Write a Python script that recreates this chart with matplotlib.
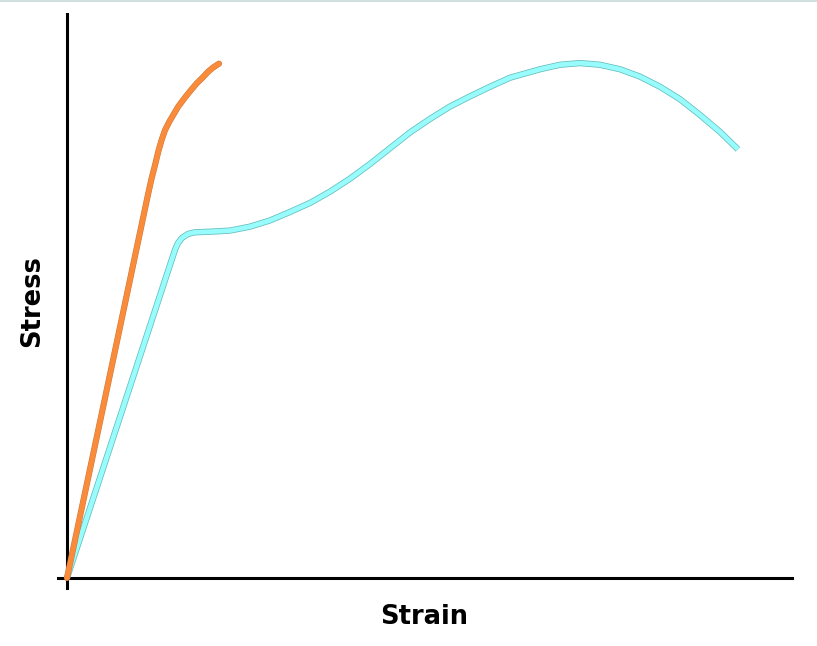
import matplotlib
matplotlib.use("Agg")
import matplotlib.pyplot as plt
import matplotlib.patheffects as pe
from matplotlib.lines import Line2D

# Brittle material (orange)
brittle_strain = [0, 11.21, 11.68, 12.14, 12.59, 13.06, 13.52, 14.11, 14.66, 15.35,
                  16.28, 16.97, 17.89, 18.76, 19.49, 20.14, 20.97]
brittle_stress = [0, 68.2, 70.9, 73.2, 75.6, 77.7, 79.4, 80.9, 82.1, 83.6,
                  85.2, 86.3, 87.7, 88.8, 89.8, 90.5, 91.2]

# Ductile material (cyan)
ductile_strain = [0, 14.90, 15.31, 15.86, 16.69, 17.66, 19.72, 22.48, 25.24, 28.0, 30.76, 33.52,
                  36.28, 39.03, 41.79, 44.55, 47.31, 50.07, 52.83, 55.59, 58.34, 61.10, 62.48,
                  65.24, 68.0, 70.76, 73.52, 76.28, 79.03, 81.79, 84.55, 87.31, 90.07, 92.55]
ductile_stress = [0, 58.2, 59.4, 60.3, 61.0, 61.3, 61.4, 61.6, 62.3, 63.4, 64.9, 66.5,
                  68.5, 70.8, 73.4, 76.2, 79.0, 81.4, 83.6, 85.4, 87.1, 88.7, 89.2,
                  90.2, 91.0, 91.3, 91.0, 90.2, 88.9, 87.1, 84.9, 82.1, 79.1, 76.0]

x_label = "Strain"
y_label = "Stress"

W, H = 817, 646
fig = plt.figure(figsize=(W / 100, H / 100), dpi=100)
ax = fig.add_axes([58 / W, 1 - 588 / H, (792 - 58) / W, (588 - 14) / H])

ax.plot(ductile_strain, ductile_stress, color="#98fcfc", lw=3.4, solid_capstyle="butt",
        solid_joinstyle="round",
        path_effects=[pe.Stroke(linewidth=4.5, foreground="#66bcbc"), pe.Normal()], zorder=3)
ax.plot(brittle_strain, brittle_stress, color="#f98b3a", lw=3.7, solid_capstyle="round",
        solid_joinstyle="round",
        path_effects=[pe.Stroke(linewidth=4.4, foreground="#c97a3e"), pe.Normal()], zorder=4)

ax.set_xlim(-1.24, 100)
ax.set_ylim(-1.77, 100)

for s in ("top", "right"):
    ax.spines[s].set_visible(False)
ax.spines["left"].set_position(("data", 0))
ax.spines["bottom"].set_position(("data", 0))
for s in ("left", "bottom"):
    ax.spines[s].set_linewidth(2.2)
    ax.spines[s].set_color("black")
    ax.spines[s].set_zorder(2)
ax.set_xticks([])
ax.set_yticks([])

ax.set_xlabel(x_label, fontsize=18.5, fontweight="bold", family="DejaVu Sans")
ax.xaxis.set_label_coords(0.4986, -0.0505)
ax.xaxis.label.set_va("center")
ax.set_ylabel(y_label, fontsize=18.5, fontweight="bold", family="DejaVu Sans")
ax.yaxis.set_label_coords(-0.0354, 0.5)
ax.yaxis.label.set_va("center")

fig.add_artist(Line2D([0, 1], [1 - 0.5 / H, 1 - 0.5 / H], transform=fig.transFigure,
                      color="#c9d9d9", lw=1.2))

fig.savefig("out.png", dpi=100)
